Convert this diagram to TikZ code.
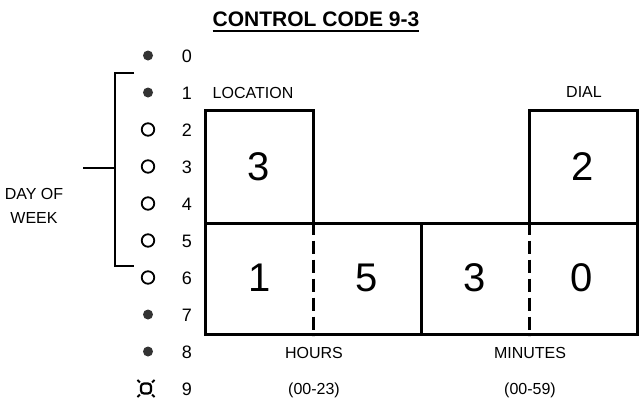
\documentclass[tikz,border=0pt]{standalone}
\usepackage{fontspec}
\setmainfont{Liberation Sans}
\begin{document}
\begin{tikzpicture}[x=1pt,y=-1pt,
  lbl/.style={font=\fontsize{16}{24}\selectfont, inner sep=0},
  rownum/.style={font=\fontsize{18}{20}\selectfont, inner sep=0, anchor=base},
  big/.style={font=\fontsize{40}{44}\selectfont, inner sep=0},
  cell/.style={draw, line width=3pt, inner sep=0},
  fdot/.style={circle, fill=black!80, minimum size=10pt, inner sep=0},
  odot/.style={circle, draw, line width=1.8pt, minimum size=12.5pt, inner sep=0},
  divider/.style={line width=3pt, dash pattern=on 13pt off 6pt},
  brk/.style={line width=1.5pt}]
\useasboundingbox (0,0) rectangle (639,400);

% title
\node[font=\fontsize{21}{25}\selectfont\bfseries, inner sep=0, anchor=base] (title) at (316,26) {CONTROL CODE 9-3};
\draw[line width=1.8pt] ([yshift=-5pt]title.base west) -- ([yshift=-5pt]title.base east);

% row markers and numbers
\node[fdot] (m0) at (148,55.5) {};  \node[rownum] (n0) at (187,62) {0};
\node[fdot] (m1) at (148,92.5) {};  \node[rownum] (n1) at (187,99) {1};
\node[odot] (m2) at (148,129.5) {}; \node[rownum] (n2) at (187,136) {2};
\node[odot] (m3) at (148,166.5) {}; \node[rownum] (n3) at (187,173) {3};
\node[odot] (m4) at (148,203.5) {}; \node[rownum] (n4) at (187,210) {4};
\node[odot] (m5) at (148,240.5) {}; \node[rownum] (n5) at (187,247) {5};
\node[odot] (m6) at (148,277.5) {}; \node[rownum] (n6) at (187,284) {6};
\node[fdot] (m7) at (148,314.5) {}; \node[rownum] (n7) at (187,321) {7};
\node[fdot] (m8) at (148,351.5) {}; \node[rownum] (n8) at (187,358) {8};
\node[draw, line width=2.2pt, minimum size=10pt, inner sep=0, rounded corners=3pt] (m9) at (146,388.5) {};
\draw[line width=1.8pt] (m9.north west) -- ++(-2.5,-2.5)
  (m9.north east) -- ++(2.5,-2.5)
  (m9.south west) -- ++(-2.5,2.5)
  (m9.south east) -- ++(2.5,2.5);
\node[rownum] (n9) at (187,395) {9};

% bracket
\coordinate (bt) at (134,73);
\coordinate (btc) at (115,73);
\coordinate (bbc) at (115,266);
\coordinate (bb) at (134,266);
\coordinate (bm) at (115,168);
\coordinate (bl) at (83,168);
\draw[brk] (bt) -- (btc) -- (bbc) -- (bb);
\draw[brk] (bl) -- (bm);
\node[lbl, align=center] (dow) at (34,206) {DAY OF\\WEEK};

% boxes
\node[cell, minimum width=108pt, minimum height=113pt] (loc) at (259,166.5) {};
\node[cell, minimum width=108pt, minimum height=113pt] (dial) at (583,166.5) {};
\node[cell, minimum width=216pt, minimum height=111pt] (hours) at (313,278.5) {};
\node[cell, minimum width=216pt, minimum height=111pt] (mins) at (529,278.5) {};
\draw[divider] (hours.north) -- (hours.south);
\draw[divider] (mins.north) -- (mins.south);

% digits
\node[big] (dl) at (259,166.5) {3};
\node[big] (dd) at (583,166.5) {2};
\node[big] (h1) at (260,278) {1};
\node[big] (h2) at (367,278) {5};
\node[big] (mn1) at (475,278) {3};
\node[big] (mn2) at (582,278) {0};

% labels
\node[lbl, anchor=base] (loclbl) at (253,98.7) {LOCATION};
\node[lbl, anchor=base] (diallbl) at (584,97.7) {DIAL};
\node[lbl, anchor=base] (hlbl) at (314,358.7) {HOURS};
\node[lbl, anchor=base] (mlbl) at (530,358.7) {MINUTES};
\node[lbl, anchor=base] (hrng) at (314,394.7) {(00-23)};
\node[lbl, anchor=base] (mrng) at (530,394.7) {(00-59)};
\end{tikzpicture}
\end{document}
